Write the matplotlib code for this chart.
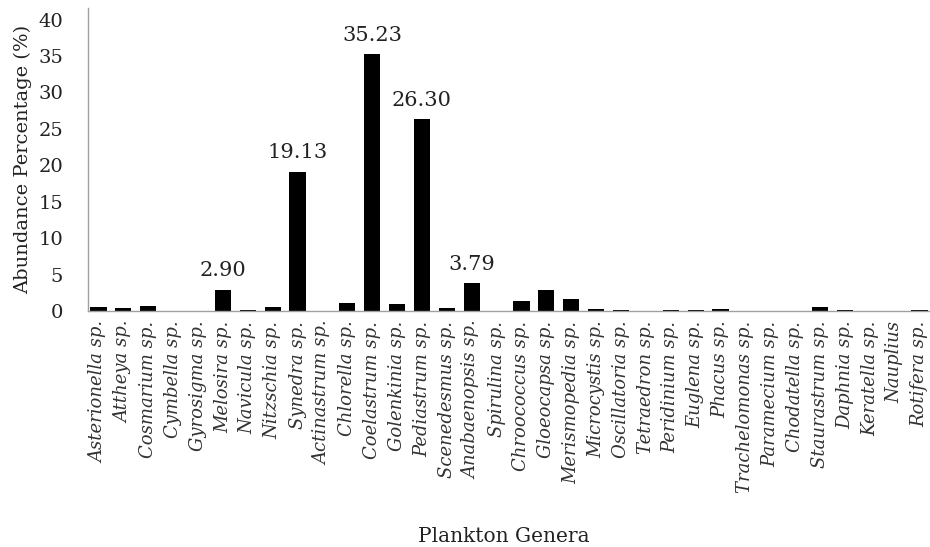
import numpy as np
import matplotlib
matplotlib.use("Agg")
import matplotlib.pyplot as plt

genera = ["Asterionella", "Attheya", "Cosmarium", "Cymbella", "Gyrosigma",
          "Melosira", "Navicula", "Nitzschia", "Synedra", "Actinastrum",
          "Chlorella", "Coelastrum", "Golenkinia", "Pediastrum", "Scenedesmus",
          "Anabaenopsis", "Spirulina", "Chroococcus", "Gloeocapsa",
          "Merismopedia", "Microcystis", "Oscillatoria", "Tetraedron",
          "Peridinium", "Euglena", "Phacus", "Trachelomonas", "Paramecium",
          "Chodatella", "Staurastrum", "Daphnia", "Keratella", "Nauplius",
          "Rotifera"]
suffix = [" sp."] * len(genera)
suffix[genera.index("Nauplius")] = ""

abundance = [0.50, 0.37, 0.73, 0.02, 0.02, 2.90, 0.20, 0.55, 19.13, 0.03,
             1.05, 35.23, 0.90, 26.30, 0.40, 3.79, 0.02, 1.35, 2.85, 1.70,
             0.25, 0.08, 0.05, 0.08, 0.20, 0.30, 0.03, 0.03, 0.03, 0.55,
             0.20, 0.03, 0.03, 0.10]

labelled = ["Melosira", "Synedra", "Coelastrum", "Pediastrum", "Anabaenopsis"]

plt.rcParams['font.family'] = ['DejaVu Serif']

fig = plt.figure(figsize=(9.30, 5.47), dpi=100)
ax = fig.add_axes([88 / 930, 1 - 311 / 547, 842 / 930, 303 / 547])

x = np.arange(len(genera))
ax.bar(x, abundance, width=0.65, color="black")

for i, name in enumerate(genera):
    if name in labelled:
        ax.text(x[i], abundance[i] + 1.3, f"{abundance[i]:.2f}",
                ha="center", va="bottom", fontsize=15, color="#222222")

ax.set_xlim(-0.42, len(genera) - 0.58)
ax.set_ylim(0, 41.6)
ax.set_yticks(np.arange(0, 41, 5))
ax.set_xticks(x)
ax.set_xticklabels([g + s for g, s in zip(genera, suffix)], rotation=90,
                   fontsize=13, style="italic", color="#333333")
ax.tick_params(axis="both", length=0, colors="#222222")
ax.tick_params(axis="x", labelcolor="#333333", pad=7)
ax.tick_params(axis="y", labelsize=14, pad=18)

for side in ["top", "right"]:
    ax.spines[side].set_visible(False)
for side in ["left", "bottom"]:
    ax.spines[side].set_color("#a0a0a0")
    ax.spines[side].set_linewidth(1.0)

ax.set_ylabel("Abundance Percentage (%)", fontsize=14, color="#222222",
              labelpad=4)
fig.text(504 / 930, 1 - 536 / 547, "Plankton Genera",
         ha="center", va="center", fontsize=14.5, color="#222222")

fig.savefig("out.png", dpi=100)
